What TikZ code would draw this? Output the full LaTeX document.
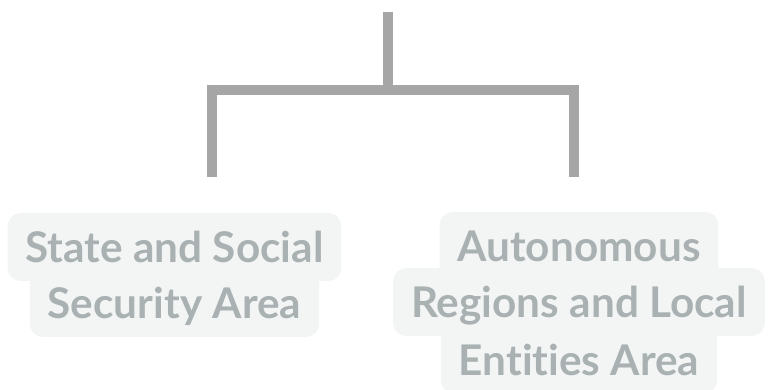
\documentclass[tikz,border=0pt]{standalone}
\usepackage{fontspec}
\setmainfont{Lato}[Ligatures={NoCommon,NoRare}]
\definecolor{linecol}{HTML}{A6A6A6}
\definecolor{txtcol}{HTML}{AAB1B2}
\definecolor{bgcol}{HTML}{F3F5F5}
\tikzset{
  conn/.style={draw=linecol, line width=10pt, line join=miter, line cap=butt},
  lbl/.style={anchor=base, fill=bgcol, rounded corners=13pt, text=txtcol,
    font=\fontsize{42.3}{50}\selectfont\bfseries, inner xsep=18pt, inner ysep=0pt,
    text height=50pt, text depth=18pt},
}
\begin{document}
\begin{tikzpicture}[x=1pt,y=-1pt]
\useasboundingbox (0,0) rectangle (769,390);
% labels (left)
\node[lbl] (l2) at (174.5,319) {Security Area};
\node[lbl] (l1) at (174.5,263) {State and Social};
% labels (right)
\node[lbl] (r3) at (579,375) {Entities Area};
\node[lbl] (r2) at (579,318) {Regions and Local};
\node[lbl] (r1) at (579,262) {Autonomous};
% connectors
\coordinate (top) at (387.5,12);
\coordinate (mid) at (387.5,90);
\coordinate (lend) at (212,177);
\coordinate (rend) at (574,177);
\draw[conn] (lend) |- (rend |- mid) -- (rend);
\draw[conn] (top) -- (mid);
\end{tikzpicture}
\end{document}
